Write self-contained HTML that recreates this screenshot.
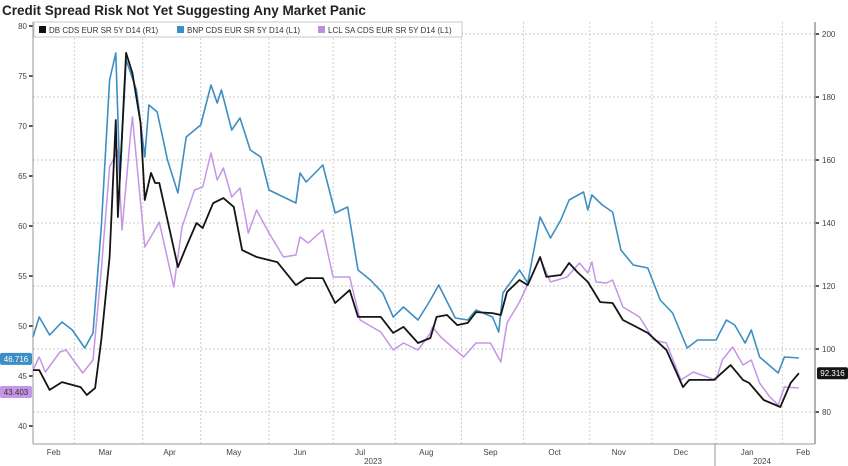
<!DOCTYPE html>
<html><head><meta charset="utf-8">
<style>
body{margin:0;background:#fff;width:848px;height:466px;overflow:hidden;font-family:"Liberation Sans",sans-serif}
svg{display:block}
</style></head>
<body>
<svg id="chart" width="848" height="466" xmlns="http://www.w3.org/2000/svg">
<text x="2" y="15" font-size="13.5" font-weight="bold" fill="#222">Credit Spread Risk Not Yet Suggesting Any Market Panic</text>
<g id="grid"></g>
<g id="axes"></g>
<g id="series"></g>
<g>
<rect x="34" y="22" width="428" height="15" fill="#fff" stroke="#bbb" stroke-width="0.8"/>
<g><rect x="39" y="26" width="7" height="7" fill="#111"/><text x="49" y="33" font-size="8" fill="#333">DB CDS EUR SR 5Y D14  (R1)</text></g>
<g><rect x="177" y="26" width="7" height="7" fill="#3b8fc8"/><text x="187" y="33" font-size="8" fill="#333">BNP CDS EUR SR 5Y D14  (L1)</text></g>
<g><rect x="318" y="26" width="7" height="7" fill="#c08ee0"/><text x="328" y="33" font-size="8" fill="#333">LCL SA CDS EUR SR 5Y D14  (L1)</text></g>
</g>
</svg>
<script>
const leftTicks=[40,45,50,55,60,65,70,75,80];
const rightTicks=[80,100,120,140,160,180,200];
const monthLabels=["Feb","Mar","Apr","May","Jun","Jul","Aug","Sep","Oct","Nov","Dec","Jan","Feb"];
const monthLabelDays=[10,35,66,97,129,158,190,221,252,283,313,345,372];
const monthGridDays=[20,53,81,114,145,175,207,237,269,299,330,362];
const bnpDays=[0,3,8,14,19,25,29,33,37,40,42,45,50,54,56,60,65,70,74,81,86,89,91,96,100,105,110,114,121,127,129,132,140,146,152,157,163,169,174,179,186,192,196,204,210,214,222,225,227,235,239,245,250,255,259,266,268,270,275,280,284,290,297,303,309,316,321,330,335,339,344,347,351,360,363,370];
const bnpValues=[48.9,50.9,49.1,50.4,49.6,47.8,49.3,59.9,74.6,77.3,64.6,76.6,73.6,66.9,72.1,71.4,66.6,63.3,68.9,70.1,74.1,72.3,73.6,69.6,70.8,67.6,66.9,63.6,62.9,62.3,65.3,64.4,66.1,61.3,61.9,55.6,54.6,53.3,50.9,51.9,50.6,52.6,54.1,50.8,50.6,51.6,50.9,49.4,53.3,55.6,54.3,60.9,58.8,60.6,62.6,63.4,61.6,63.1,62.1,61.4,57.6,56.1,55.8,52.6,51.3,47.8,48.6,48.6,50.6,50.1,48.3,49.6,46.9,45.3,46.9,46.8];
const lclDays=[0,3,6,13,16,24,29,33,37,41,43,47,48,54,58,61,68,72,78,82,86,89,92,96,100,104,108,114,121,127,129,133,140,145,153,158,168,174,179,186,192,193,197,208,214,221,226,229,235,240,245,250,258,264,268,270,272,277,280,285,293,300,306,313,319,327,330,333,338,343,347,351,356,360,363,370];
const lclValues=[45.6,46.9,45.4,47.4,47.6,45.3,46.6,55.6,65.9,67.6,59.6,68.9,70.9,57.9,59.3,60.4,53.9,59.9,63.6,63.9,67.3,64.6,65.8,62.9,63.8,59.3,61.6,59.3,56.9,57.1,58.9,58.3,59.6,54.9,54.9,50.6,49.4,47.6,48.3,47.6,49.3,49.9,48.9,46.9,48.3,48.3,46.4,50.3,52.4,54.6,56.8,54.4,54.9,56.3,55.3,56.4,54.4,54.3,54.6,51.9,50.9,48.6,48.3,44.6,45.4,44.8,44.6,46.6,47.9,46.1,46.6,44.3,42.9,42.1,43.9,43.8];
const dbDays=[0,3,8,14,23,26,30,33,37,40,41,45,48,52,54,57,59,61,70,74,79,82,87,92,97,101,108,118,127,132,140,146,153,157,168,174,179,186,192,195,200,205,210,214,222,226,229,235,239,245,248,255,259,263,268,274,280,285,297,306,314,317,329,337,343,346,353,361,366,370];
const dbValues=[93.3,93.3,87.0,89.5,87.9,85.4,87.6,102.9,129.2,172.7,141.9,194.0,187.6,171.7,147.3,155.9,152.7,152.7,126.0,132.4,140.0,138.4,146.3,147.9,145.1,131.4,129.2,127.6,120.3,122.5,122.5,114.6,118.7,110.2,110.2,105.1,107.0,101.9,103.5,110.2,110.8,107.6,108.3,111.7,111.4,110.8,118.1,121.9,120.3,129.2,122.9,123.5,127.3,124.4,121.3,114.9,114.6,109.2,105.1,99.7,87.9,90.2,90.2,94.9,90.2,89.2,83.8,81.6,89.2,92.316];
const lastBnp=46.716, lastLcl=43.403, lastDb=92.316;

const NS="http://www.w3.org/2000/svg";
const X0=33,X1=815,Y0=22,Y1=444;
function xs(d){return 33+d*2.07;}
function yl(v){return 26+(80-v)*10;}
function yr(v){return 412-(v-80)*3.15;}
function mk(tag,attrs,parent,txt){const e=document.createElementNS(NS,tag);for(const k in attrs)e.setAttribute(k,attrs[k]);if(txt!==undefined)e.textContent=txt;parent.appendChild(e);return e;}
const grid=document.getElementById('grid'),axes=document.getElementById('axes'),ser=document.getElementById('series');

rightTicks.forEach(v=>{
  const l=mk('line',{x1:X0,x2:X1,y1:yr(v),y2:yr(v),stroke:'#c8c8c8','stroke-dasharray':'2,2','stroke-width':1},grid);
  
  
  const t=mk('text',{x:822,y:yr(v)+3,'font-size':8,fill:'#444'},axes,String(v));
  
  
  mk('line',{x1:X1,x2:X1+4,y1:yr(v),y2:yr(v),stroke:'#222','stroke-width':1.5},axes);
});
leftTicks.forEach(v=>{
  const t=mk('text',{x:27,y:yl(v)+3,'font-size':8,fill:'#444','text-anchor':'end'},axes,String(v));
  
  
  mk('line',{x1:X0-4,x2:X0,y1:yl(v),y2:yl(v),stroke:'#222','stroke-width':1.5},axes);
});
monthGridDays.forEach(d=>{
  const l=mk('line',{x1:xs(d),x2:xs(d),y1:Y0,y2:Y1,stroke:'#d0d0d0','stroke-dasharray':'2,2','stroke-width':1},grid);
  
  
});
monthLabels.forEach((m,i)=>{
  const t=mk('text',{x:xs(monthLabelDays[i]),y:455,'font-size':8,fill:'#444','text-anchor':'middle'},axes,m);
  
  
});
mk('line',{x1:X0,x2:X0,y1:Y0,y2:Y1,stroke:'#999','stroke-width':1},axes);
mk('line',{x1:X1,x2:X1,y1:Y0,y2:Y1,stroke:'#999','stroke-width':1.5},axes);
mk('line',{x1:X0,x2:X1,y1:Y1,y2:Y1,stroke:'#999','stroke-width':1},axes);
mk('line',{x1:715,x2:715,y1:Y1,y2:466,stroke:'#999','stroke-width':1},axes);
const y1=mk('text',{x:373,y:464,'font-size':8,fill:'#444','text-anchor':'middle'},axes,'2023');


const y2=mk('text',{x:762,y:464,'font-size':8,fill:'#444','text-anchor':'middle'},axes,'2024');



function line(days,vals,yf,color,name,w){
  const p=mk('path',{d:days.map((d,i)=>(i?'L':'M')+xs(d).toFixed(1)+','+yf(vals[i]).toFixed(1)).join(''),fill:'none',stroke:color,'stroke-width':w,'stroke-linejoin':'round'},ser);
  
  
}
line(lclDays,lclValues,yl,'#c595e6','lcl-cds-line',1.5);
line(bnpDays,bnpValues,yl,'#3d8ec4','bnp-cds-line',1.6);
line(dbDays,dbValues,yr,'#151515','db-cds-line',1.8);

function tag(x,y,w,fill,txt,name,tc){
  const g=mk('g',{},axes);
  
  
  mk('rect',{x:x,y:y-6,width:w,height:12,rx:2,fill:fill},g);
  mk('text',{x:x+w/2,y:y+3,'font-size':8,fill:tc,'text-anchor':'middle'},g,txt);
}
tag(0,yl(lastBnp),32,'#3d8ec4',lastBnp.toFixed(3),'bnp-last-value-tag','#fff');
tag(0,yl(lastLcl),32,'#c595e6',lastLcl.toFixed(3),'lcl-last-value-tag','#333');
tag(817,yr(lastDb),31,'#151515',lastDb.toFixed(3),'db-last-value-tag','#fff');
</script>
</body></html>
